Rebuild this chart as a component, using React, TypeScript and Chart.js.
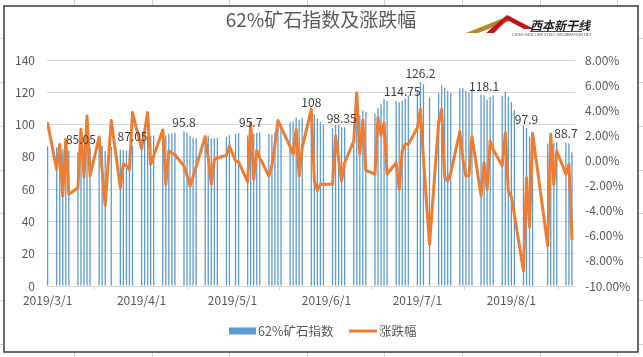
import React, { useEffect, useRef } from 'react';
import { Chart, registerables } from 'chart.js';

Chart.register(...registerables);

const chartTitle = '62%矿石指数及涨跌幅';
const barSeriesName = '62%矿石指数';
const lineSeriesName = '涨跌幅';

const tradeDates = [
  '2019-03-01','2019-03-04','2019-03-05','2019-03-06','2019-03-07','2019-03-08','2019-03-11','2019-03-12','2019-03-13','2019-03-14',
  '2019-03-15','2019-03-18','2019-03-19','2019-03-20','2019-03-22','2019-03-25','2019-03-26','2019-03-27','2019-03-28','2019-03-29',
  '2019-04-01','2019-04-02','2019-04-03','2019-04-04','2019-04-05','2019-04-08','2019-04-09','2019-04-10','2019-04-11','2019-04-12',
  '2019-04-15','2019-04-16','2019-04-17','2019-04-18','2019-04-19','2019-04-22','2019-04-23','2019-04-24','2019-04-25','2019-04-26',
  '2019-04-29','2019-04-30',
  '2019-05-02','2019-05-03','2019-05-06','2019-05-07','2019-05-08','2019-05-09','2019-05-10','2019-05-13','2019-05-14','2019-05-15',
  '2019-05-16','2019-05-17','2019-05-20','2019-05-21','2019-05-22','2019-05-23','2019-05-24','2019-05-27','2019-05-28','2019-05-29',
  '2019-05-30','2019-05-31',
  '2019-06-03','2019-06-04','2019-06-05','2019-06-06','2019-06-07','2019-06-10','2019-06-11','2019-06-12','2019-06-13','2019-06-14',
  '2019-06-17','2019-06-18','2019-06-19','2019-06-20','2019-06-21','2019-06-24','2019-06-25','2019-06-26','2019-06-27','2019-06-28',
  '2019-07-01','2019-07-02','2019-07-03','2019-07-05','2019-07-08','2019-07-09','2019-07-10','2019-07-11','2019-07-12','2019-07-15',
  '2019-07-16','2019-07-17','2019-07-18','2019-07-19','2019-07-22','2019-07-23','2019-07-24','2019-07-25','2019-07-26','2019-07-29',
  '2019-07-30','2019-07-31',
  '2019-08-01','2019-08-02','2019-08-05','2019-08-06','2019-08-07','2019-08-08','2019-08-13','2019-08-14','2019-08-15','2019-08-16',
  '2019-08-19','2019-08-20','2019-08-21',
];

const indexValues = [
  86.6, 86.0, 87.1, 84.7, 86.1, 83.8, 83.0, 85.05, 83.9, 86.9,
  85.8, 87.4, 86.7, 83.6, 86.3, 84.4, 84.2, 83.8, 83.3, 87.05,
  88.0, 90.0, 93.2, 92.9, 93.2, 95.2, 93.4, 94.1, 94.7, 95.1,
  95.8, 94.9, 93.0, 91.8, 91.3, 93.0, 93.2, 91.4, 91.5, 91.7,
  92.4, 93.5,
  94.2, 94.6, 93.2, 95.7, 94.3, 95.0, 95.2, 94.1, 93.7, 94.9,
  97.9, 100.5, 101.6, 102.1, 104.3, 103.0, 104.0, 108, 106.3, 103.7,
  101.7, 99.8,
  97.9, 99.8, 99.9, 98.35, 98.2, 99.7, 105.1, 105.6, 108.9, 108.0,
  106.8, 110.4, 112.6, 115.9, 114.7, 114.5, 113.9, 114.75, 116.2, 117.8,
  121.3, 126.2, 125.0, 116.6, 119.5, 124.4, 122.8, 120.8, 119.6, 122.3,
  122.5, 121.0, 119.6, 121.9, 118.5, 118.1, 115.4, 117.2, 118.2, 117.7,
  120.3, 117.4,
  114.0, 109.1, 99.5, 97.9, 92.7, 94.7, 88.3, 90.1, 88.4, 89.1,
  88.7, 88.4, 82.9,
];

const changePct = [
  2.95, -0.71, 1.28, -2.83, 1.68, -2.70, -2.17, 2.48, -1.32, 3.54,
  -1.24, 1.87, -0.80, -3.55, 3.19, -2.17, -0.26, -0.45, -0.71, 3.81,
  0.95, 2.30, 3.81, -0.31, 0.35, 2.43, -1.90, 0.75, 0.60, 0.45,
  -0.44, -1.20, -2.03, -1.30, -0.50, 1.90, 0.20, -1.90, 0.05, 0.22,
  0.40, 1.15,
  -0.04, -0.10, -1.70, 3.00, -1.50, 0.80, 0.22, -1.24, -0.44, 1.30,
  3.19, 2.65, 1.10, 0.49, 2.48, -1.24, 1.02, 4.07, -1.60, -2.40,
  -1.90, -1.90,
  -1.90, 1.95, 0.10, -1.64, -0.18, 1.55, 5.40, 0.49, 3.20, -0.80,
  -1.10, 3.41, 2.00, 3.00, -1.10, -0.18, -2.30, 0.75, 1.28, 1.28,
  2.60, 4.07, 0.10, -6.68, 3.01, 4.07, -1.30, -1.64, -1.00, 2.30,
  0.10, -1.24, -1.20, 1.90, -2.80, -0.15, -2.30, 1.55, 0.88, -0.44,
  2.21, -2.43,
  -2.90, -4.30, -8.80, -1.37, -5.30, 2.16, -6.80, 2.08, -1.90, 0.75,
  -1.10, -0.30, -6.25,
];

const labeledDates = [
  '2019-03-12','2019-03-29','2019-04-15','2019-05-07','2019-05-27','2019-06-06',
  '2019-06-26','2019-07-02','2019-07-23','2019-08-06','2019-08-19',
];

const monthTickDates = ['2019-03-01','2019-04-01','2019-05-01','2019-06-01','2019-07-01','2019-08-01'];
const monthTickLabels = ['2019/3/1','2019/4/1','2019/5/1','2019/6/1','2019/7/1','2019/8/1'];

const leftMin = 0, leftMax = 140, leftStep = 20;
const rightMin = -10, rightMax = 8, rightStep = 2;

const FONT = "'Noto Sans CJK SC', 'Noto Sans', sans-serif";
const BAR_COLOR = '#5B9BD5';
const LINE_COLOR = '#ED7D31';
const TEXT_COLOR = '#595959';
const GRID_COLOR = '#D9D9D9';

const BASE = Date.UTC(2019, 2, 1);
const dayIndex = (s: string) => {
  const [y, m, d] = s.split('-').map(Number);
  return Math.round((Date.UTC(y, m - 1, d) - BASE) / 86400000);
};

const decorPlugin = {
  id: 'decor',
  beforeDraw(chart: any) {
    const ctx = chart.ctx;
    const W = chart.width, H = chart.height;
    ctx.save();
    ctx.fillStyle = '#ffffff';
    ctx.fillRect(0, 0, W, H);
    ctx.strokeStyle = '#D4D4D4';
    ctx.lineWidth = 1;
    const cols = [74, 152, 229, 307, 384, 462, 540, 617];
    const rows = [38, 82, 126, 170, 213, 257, 300, 344];
    cols.forEach((x) => {
      ctx.beginPath(); ctx.moveTo(x + 0.5, 0); ctx.lineTo(x + 0.5, H); ctx.stroke();
    });
    rows.forEach((y) => {
      ctx.beginPath(); ctx.moveTo(0, y + 0.5); ctx.lineTo(W, y + 0.5); ctx.stroke();
    });
    ctx.fillStyle = '#ffffff';
    ctx.fillRect(4, 6, 634, 346);
    ctx.strokeStyle = '#3A3A3A';
    ctx.lineWidth = 1.5;
    ctx.strokeRect(4, 6, 634, 346);
    ctx.restore();
  },
  afterDatasetsDraw(chart: any) {
    const ctx = chart.ctx;
    const meta = chart.getDatasetMeta(0);
    ctx.save();
    ctx.font = `12px ${FONT}`;
    ctx.fillStyle = '#404040';
    ctx.textAlign = 'center';
    ctx.textBaseline = 'bottom';
    labeledDates.forEach((d) => {
      const i = tradeDates.indexOf(d);
      if (i < 0) return;
      const el = meta.data[i];
      ctx.fillText(String(indexValues[i]), el.x, el.y - 3);
    });
    ctx.restore();
  },
  afterDraw(chart: any) {
    const ctx = chart.ctx;
    ctx.save();
    // title
    ctx.font = `19px ${FONT}`;
    ctx.fillStyle = TEXT_COLOR;
    ctx.textAlign = 'center';
    ctx.textBaseline = 'middle';
    ctx.fillText(chartTitle, 321, 20);
    // logo
    const oy = -6;
    ctx.fillStyle = '#B8862E';
    ctx.beginPath();
    ctx.moveTo(466, 39 + oy); ctx.lineTo(506, 23 + oy); ctx.lineTo(512, 26 + oy); ctx.lineTo(478, 39 + oy); ctx.closePath();
    ctx.fill();
    ctx.fillStyle = '#C0141C';
    ctx.beginPath();
    ctx.moveTo(486, 39 + oy); ctx.lineTo(507, 21 + oy); ctx.lineTo(534, 35 + oy); ctx.lineTo(524, 35 + oy);
    ctx.lineTo(507, 26 + oy); ctx.lineTo(494, 39 + oy); ctx.closePath();
    ctx.fill();
    ctx.fillStyle = '#1E1E1E';
    ctx.font = `italic bold 12px ${FONT}`;
    ctx.textAlign = 'left';
    ctx.fillText('西本新干线', 530, 31 + oy);
    ctx.fillStyle = '#555555';
    ctx.font = `4px ${FONT}`;
    ctx.fillText('CHINA NEW LINE STEEL INFORMATION NET', 512, 40 + oy);
    ctx.fillStyle = '#1E1E1E';
    ctx.fillRect(530, 37 + oy, 52, 0.8);
    // legend
    ctx.font = `12.5px ${FONT}`;
    ctx.textBaseline = 'middle';
    ctx.fillStyle = BAR_COLOR;
    ctx.fillRect(229, 327.5, 27, 7);
    ctx.fillStyle = TEXT_COLOR;
    ctx.fillText(barSeriesName, 258, 331);
    ctx.strokeStyle = LINE_COLOR;
    ctx.lineWidth = 3;
    ctx.beginPath(); ctx.moveTo(349, 331); ctx.lineTo(377, 331); ctx.stroke();
    ctx.fillText(lineSeriesName, 379, 331);
    ctx.restore();
  },
};

export default function App() {
  const canvasRef = useRef<HTMLCanvasElement | null>(null);

  useEffect(() => {
    document.body.style.margin = '0';
    const canvas = canvasRef.current;
    if (!canvas) return;
    const tickDays = monthTickDates.map(dayIndex);
    const lastDay = dayIndex(tradeDates[tradeDates.length - 1]);

    const chart = new Chart(canvas, {
      type: 'bar',
      data: {
        datasets: [
          {
            type: 'bar',
            label: barSeriesName,
            data: tradeDates.map((d, i) => ({ x: dayIndex(d), y: indexValues[i] })),
            backgroundColor: BAR_COLOR,
            barThickness: 1.3,
            inflateAmount: 0,
            borderWidth: 0,
            yAxisID: 'y',
            xAxisID: 'x',
            order: 2,
          } as any,
          {
            type: 'line',
            label: lineSeriesName,
            data: tradeDates.map((d, i) => ({ x: dayIndex(d), y: changePct[i] })),
            borderColor: LINE_COLOR,
            backgroundColor: LINE_COLOR,
            borderWidth: 3,
            pointRadius: 0,
            tension: 0,
            borderJoinStyle: 'round',
            borderCapStyle: 'round',
            yAxisID: 'y1',
            xAxisID: 'x',
            order: 1,
          } as any,
        ],
      },
      options: {
        responsive: false,
        animation: false,
        devicePixelRatio: 1,
        layout: { padding: { top: 60, left: 0, right: 0, bottom: 0 } },
        plugins: {
          legend: { display: false },
          title: { display: false },
          tooltip: { enabled: false },
        },
        scales: {
          x: {
            type: 'linear',
            min: -0.2,
            max: lastDay + 1,
            offset: false,
            afterBuildTicks: (s: any) => {
              s.ticks = tickDays.map((v) => ({ value: v }));
            },
            afterFit: (s: any) => { s.height = 71; },
            ticks: {
              autoSkip: false,
              maxRotation: 0,
              padding: 3,
              color: TEXT_COLOR,
              font: { size: 12, family: FONT },
              callback: (_v: any, i: number) => monthTickLabels[i],
            },
            grid: { drawOnChartArea: false, drawTicks: true, tickLength: 4, color: GRID_COLOR },
            border: { color: GRID_COLOR },
          } as any,
          y: {
            position: 'left',
            min: leftMin,
            max: leftMax,
            afterFit: (s: any) => { s.width = 47; },
            ticks: { stepSize: leftStep, padding: 12, color: TEXT_COLOR, font: { size: 12, family: FONT } },
            grid: { color: GRID_COLOR, drawTicks: false },
            border: { display: false },
          } as any,
          y1: {
            position: 'right',
            min: rightMin,
            max: rightMax,
            afterFit: (s: any) => { s.width = 68; },
            ticks: {
              stepSize: rightStep,
              padding: 10,
              color: TEXT_COLOR,
              font: { size: 12, family: FONT },
              callback: (v: any) => Number(v).toFixed(2) + '%',
            },
            grid: { drawOnChartArea: false, drawTicks: false },
            border: { display: false },
          } as any,
        },
      },
      plugins: [decorPlugin],
    });

    return () => chart.destroy();
  }, []);

  return (
    <div style={{ width: 643, height: 357, position: 'relative' }}>
      <canvas ref={canvasRef} width={643} height={357} style={{ display: 'block', width: 643, height: 357 }} />
    </div>
  );
}
